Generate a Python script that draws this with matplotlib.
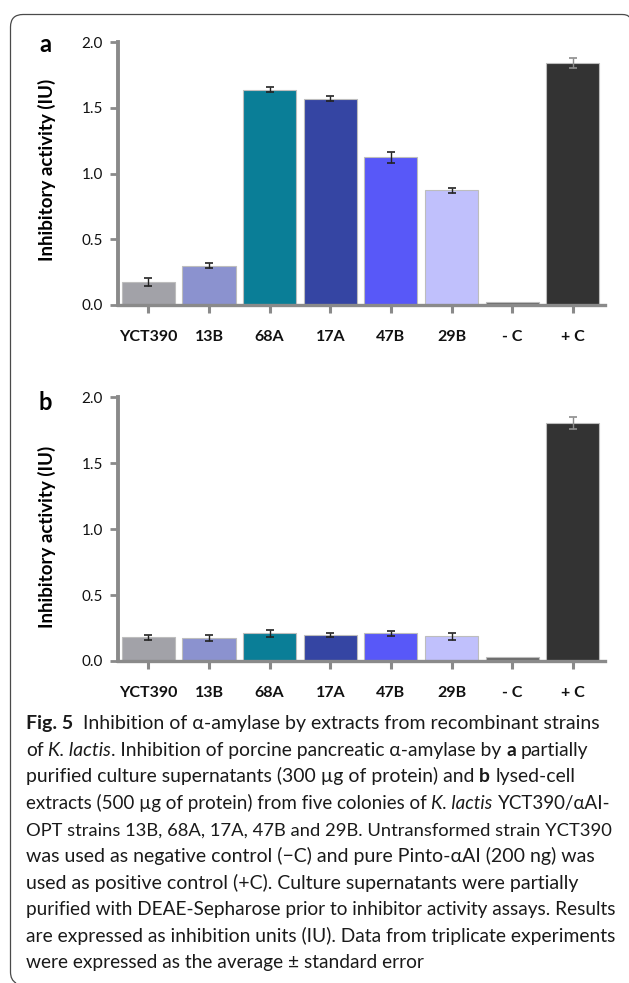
import matplotlib
matplotlib.use("Agg")
import matplotlib.pyplot as plt
from matplotlib.path import Path
from matplotlib.patches import PathPatch

# --- Figure size (pixels) ---
W, H = 629, 983
DPI = 100

# --- Data ---
strains = ["YCT390", "13B", "68A", "17A", "47B", "29B", "- C", "+ C"]
bar_colors = ["#a2a2a8", "#8b92cf", "#0a7e97", "#3545a3",
              "#5858f8", "#c0c0fc", "#6a6a6a", "#333333"]

supernatant_iu = [0.175, 0.30, 1.64, 1.572, 1.125, 0.873, 0.025, 1.843]
supernatant_err = [0.027, 0.016, 0.016, 0.018, 0.043, 0.020, 0.0, 0.036]

lysate_iu = [0.18, 0.175, 0.21, 0.195, 0.21, 0.187, 0.03, 1.805]
lysate_err = [0.018, 0.021, 0.028, 0.016, 0.021, 0.024, 0.0, 0.043]

y_ticks = [0.0, 0.5, 1.0, 1.5, 2.0]

AXIS_GRAY = "#8a8a8a"
FONT = ["Lato", "DejaVu Sans"]

plt.rcParams["font.family"] = FONT


def px(x, y):
    # pixel (from top-left) -> figure fraction
    return x / W, 1 - y / H


def draw_panel(ax, values, errors, ylabel_y):
    xs = list(range(len(strains)))
    ax.bar(xs, values, width=0.875, color=bar_colors,
           edgecolor="#bdbdbd", linewidth=0.8, zorder=2)
    for i in xs:
        if errors[i] <= 0:
            continue
        ecol = "#8c8c8c" if strains[i] == "+ C" else "#222222"
        ax.errorbar(i, values[i], yerr=errors[i], fmt="none", ecolor=ecol,
                    elinewidth=1.0, capsize=3.2, capthick=1.2, zorder=3)

    ax.set_xlim(-0.5, 7.53)
    ax.set_ylim(0, 2.0)
    ax.set_yticks(y_ticks)
    ax.set_yticklabels([f"{t:.1f}" for t in y_ticks])
    ax.set_xticks(xs)
    ax.set_xticklabels(strains, fontweight="bold")

    for side in ("top", "right"):
        ax.spines[side].set_visible(False)
    ax.spines["left"].set_color(AXIS_GRAY)
    ax.spines["left"].set_linewidth(2.8)
    ax.spines["bottom"].set_color(AXIS_GRAY)
    ax.spines["bottom"].set_linewidth(2.4)
    ax.spines["left"].set_zorder(4)
    ax.spines["bottom"].set_zorder(4)

    ax.tick_params(axis="x", direction="out", length=6, width=2.2,
                   color=AXIS_GRAY, pad=12, labelsize=11.5, labelcolor="#111111")
    ax.tick_params(axis="y", direction="out", length=6, width=2.0,
                   color=AXIS_GRAY, pad=5, labelsize=11, labelcolor="#111111")

    ax.set_ylabel("Inhibitory activity (IU)", fontsize=13.5,
                  fontweight="bold", va="center")
    ax.yaxis.set_label_coords(-0.146, ylabel_y)


fig = plt.figure(figsize=(W / DPI, H / DPI), dpi=DPI)

# panel positions from the reference (pixels)
ax_a = fig.add_axes([118 / W, 1 - 305 / H, (605 - 118) / W, (305 - 42.3) / H])
ax_b = fig.add_axes([118 / W, 1 - 661 / H, (605 - 118) / W, (661 - 397.3) / H])

draw_panel(ax_a, supernatant_iu, supernatant_err, 0.513)
draw_panel(ax_b, lysate_iu, lysate_err, 0.47)

fig.text(*px(45, 45), "a", fontsize=17, fontweight="bold",
         ha="center", va="center")
fig.text(*px(45, 403), "b", fontsize=17, fontweight="bold",
         ha="center", va="center")

# --- Frame: rounded top-left, open right/bottom ---
verts = [px(16, 983), px(10.5, 980), px(10.5, 972),
         px(10.5, 27), px(10.5, 14.5), px(23, 14.5),
         px(622, 14.5), px(628, 14.5), px(629, 17)]
codes = [Path.MOVETO, Path.CURVE3, Path.CURVE3,
         Path.LINETO, Path.CURVE3, Path.CURVE3,
         Path.LINETO, Path.CURVE3, Path.CURVE3]
frame = PathPatch(Path(verts, codes), transform=fig.transFigure,
                  fill=False, edgecolor="#4a4a4a", linewidth=0.9)
fig.patches.append(frame)

# --- Caption with mixed styles ---
R, B, I = "normal", "bold", "italic"
caption = [
    [("Fig. 5", B), ("  Inhibition of α-amylase by extracts from recombinant strains", R)],
    [("of ", R), ("K. lactis", I), (". Inhibition of porcine pancreatic α-amylase by ", R),
     ("a", B), (" partially", R)],
    [("purified culture supernatants (300 µg of protein) and ", R), ("b", B),
     (" lysed-cell", R)],
    [("extracts (500 µg of protein) from five colonies of ", R), ("K. lactis", I),
     (" YCT390/αAI-", R)],
    [("OPT strains 13B, 68A, 17A, 47B and 29B. Untransformed strain YCT390", R)],
    [("was used as negative control (−C) and pure Pinto-αAI (200 ng) was", R)],
    [("used as positive control (+C). Culture supernatants were partially", R)],
    [("purified with DEAE-Sepharose prior to inhibitor activity assays. Results", R)],
    [("are expressed as inhibition units (IU). Data from triplicate experiments", R)],
    [("were expressed as the average ± standard error", R)],
]
# right edge of each caption line in the reference (pixels), None = ragged
line_ends = [598, 588, 574, 608, 610, 594, 577, 615, 614, None]
CAP_SIZE = 13.8
CAP_X = 26
CAP_Y0 = 729
CAP_DY = 26.6

renderer = fig.canvas.get_renderer()


def style_kw(style, size):
    kw = dict(fontsize=size)
    if style == B:
        kw["fontweight"] = "bold"
    if style == I:
        kw["fontstyle"] = "italic"
    return kw


def text_width(s, style, size):
    t = fig.text(0, 0, s, **style_kw(style, size))
    w = t.get_window_extent(renderer).width
    t.remove()
    return w


def line_width(line, size):
    sp = text_width("a a", R, size) - text_width("aa", R, size)
    total = 0
    for s, style in line:
        n_sp = len(s) - len(s.strip(" "))
        total += text_width(s.strip(" "), style, size) + n_sp * sp
    return total


for k, line in enumerate(caption):
    size = CAP_SIZE
    if line_ends[k] is not None:
        natural = line_width(line, CAP_SIZE)
        scale = (line_ends[k] - CAP_X) / natural
        size = CAP_SIZE * min(1.03, max(0.92, scale))
    space_w = text_width("a a", R, size) - text_width("aa", R, size)
    x = CAP_X
    y = CAP_Y0 + k * CAP_DY
    for s, style in line:
        lead = len(s) - len(s.lstrip(" "))
        trail = len(s) - len(s.rstrip(" "))
        core = s.strip(" ")
        x += lead * space_w
        kw = style_kw(style, size)
        kw.update(color="#1a1a1a", ha="left", va="baseline")
        t = fig.text(*px(x, y), core, **kw)
        x += t.get_window_extent(renderer).width
        x += trail * space_w

fig.savefig("out.png", dpi=DPI)
